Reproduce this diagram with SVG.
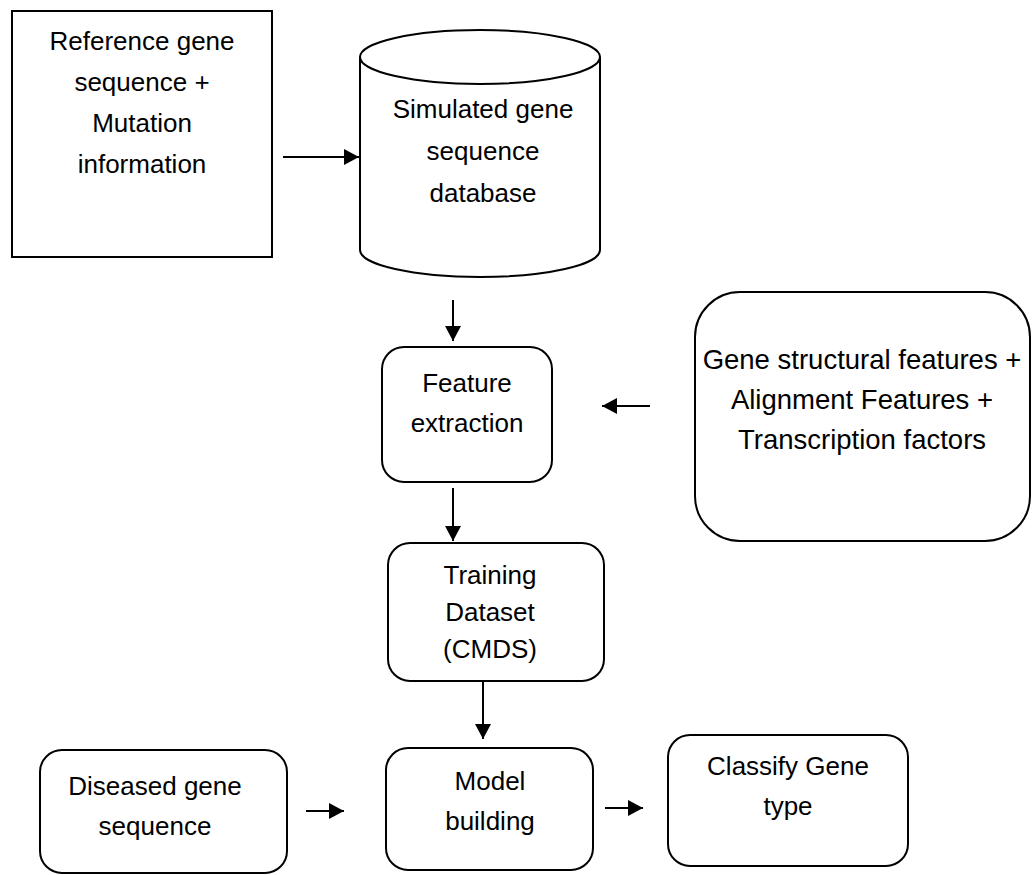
<svg xmlns="http://www.w3.org/2000/svg" width="1034" height="875" viewBox="0 0 1034 875">
<defs>
<style>
.box{fill:#fff;stroke:#000;stroke-width:2}
.t{font-family:"Liberation Sans",Arial,sans-serif;font-size:26px;fill:#000;text-anchor:middle}
.big{font-size:27.5px}
.c{stroke:#000;stroke-width:2;fill:none;marker-end:url(#ah)}
</style>
<marker id="ah" markerUnits="userSpaceOnUse" markerWidth="16" markerHeight="16" refX="15" refY="8" orient="auto">
<path d="M0,0 L15,8 L0,16 Z" fill="#000"/>
</marker>
</defs>
<rect width="1034" height="875" fill="#fff"/>
<g id="connectors">
<line class="c" x1="283" y1="157" x2="359" y2="157"/>
<line class="c" x1="453" y1="300" x2="453" y2="341"/>
<line class="c" x1="650" y1="406" x2="602" y2="406"/>
<line class="c" x1="453" y1="488" x2="453" y2="541"/>
<line class="c" x1="483" y1="682" x2="483" y2="739"/>
<line class="c" x1="306" y1="811" x2="344" y2="811"/>
<line class="c" x1="605" y1="808" x2="643" y2="808"/>
</g>
<g id="reference">
<rect class="box" x="12" y="11" width="260" height="246"/>
<text class="t" x="142" y="50">Reference gene</text>
<text class="t" x="142" y="91">sequence +</text>
<text class="t" x="142" y="132">Mutation</text>
<text class="t" x="142" y="173">information</text>
</g>
<g id="database">
<path class="box" d="M360,57 L360,250 A120,27 0 0 0 600,250 L600,57 A120,27 0 0 0 360,57 Z"/>
<path d="M360,57 A120,27 0 0 0 600,57" fill="none" stroke="#000" stroke-width="2"/>
<text class="t" x="483" y="118">Simulated gene</text>
<text class="t" x="483" y="160">sequence</text>
<text class="t" x="483" y="202">database</text>
</g>
<g id="feature">
<rect class="box" x="382" y="347" width="170" height="135" rx="22"/>
<text class="t" x="467" y="392">Feature</text>
<text class="t" x="467" y="432">extraction</text>
</g>
<g id="features-input">
<rect class="box" x="695" y="292" width="335" height="249" rx="45"/>
<text class="t big" x="862" y="369">Gene structural features +</text>
<text class="t big" x="862" y="409">Alignment Features +</text>
<text class="t big" x="862" y="449">Transcription factors</text>
</g>
<g id="training">
<rect class="box" x="388" y="543" width="216" height="138" rx="22"/>
<text class="t" x="490" y="584">Training</text>
<text class="t" x="490" y="621">Dataset</text>
<text class="t" x="490" y="658">(CMDS)</text>
</g>
<g id="diseased">
<rect class="box" x="40" y="750" width="247" height="123" rx="22"/>
<text class="t" x="155" y="795">Diseased gene</text>
<text class="t" x="155" y="835">sequence</text>
</g>
<g id="model">
<rect class="box" x="386" y="748" width="207" height="122" rx="22"/>
<text class="t" x="490" y="790">Model</text>
<text class="t" x="490" y="830">building</text>
</g>
<g id="classify">
<rect class="box" x="668" y="735" width="240" height="131" rx="22"/>
<text class="t" x="788" y="775">Classify Gene</text>
<text class="t" x="788" y="815">type</text>
</g>
</svg>
